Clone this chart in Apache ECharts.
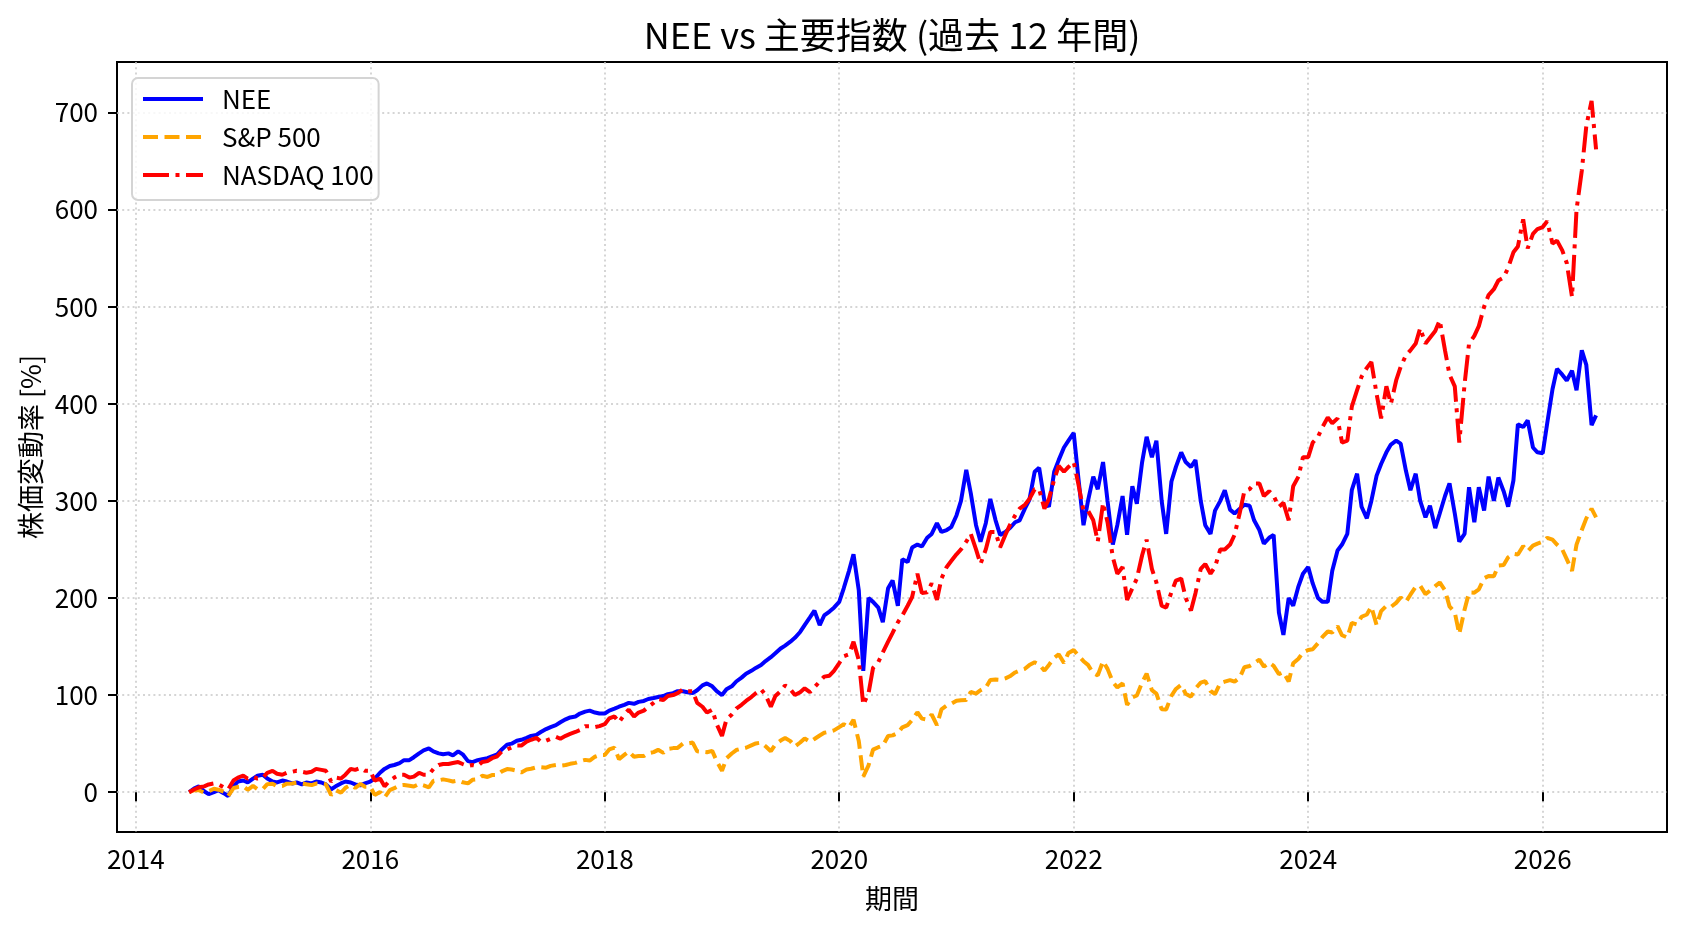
<!DOCTYPE html>
<html>
<head>
<meta charset="UTF-8">
<title>NEE vs 主要指数</title>
<style type="text/css">
   html, body{
      margin:0;
      padding:0;
      background-color:#ffffff;
   }
   #main{
      width:1688px;
      height:932px;
   }
</style>
</head>
<body>
<div id="main"></div>
<script src="https://cdn.jsdelivr.net/npm/echarts@6/dist/echarts.min.js"></script>
<script type="text/javascript">
var FONT = "'Noto Sans CJK JP', 'Noto Sans', sans-serif";

// sampled on the 1st and 15th of each month, 2014-06-15 .. 2026-06-15
var startYear = 2014.455, endYear = 2026.46;

// % change since start
var nee = [
  0, 4, 6, 1, -2, 0, 2, -1, -4, 6, 11, 12, 10,                                                          // 2014
  14, 17, 18, 14, 11, 10, 12, 11, 9, 10, 8, 10, 9, 11, 10, 8, 3, 6, 9, 11, 10, 8, 7, 9,                  // 2015
  11, 14, 20, 24, 27, 28, 30, 33, 33, 36, 40, 43, 45, 42, 40, 39, 40, 38, 42, 39, 32, 31, 33, 34,        // 2016
  35, 37, 39, 44, 49, 50, 53, 54, 56, 58, 59, 62, 65, 67, 69, 72, 75, 77, 78, 81, 83, 84, 82, 81,        // 2017
  81, 84, 86, 88, 90, 92, 91, 93, 94, 96, 97, 98, 99, 101, 102, 104, 104, 103, 102, 105, 110, 112, 109, 104, // 2018
  100, 106, 109, 114, 118, 122, 125, 128, 131, 135, 139, 143, 148, 151, 155, 159, 165, 172, 180, 187, 172, 182, 186, 190, // 2019
  196, 210, 228, 245, 208, 125, 200, 196, 190, 175, 210, 218, 192, 240, 237, 252, 255, 253, 262, 266, 277, 268, 270, 273, // 2020
  285, 300, 332, 308, 275, 258, 277, 302, 280, 265, 268, 272, 278, 280, 292, 301, 330, 334, 300, 294, 330, 342, 355, 362, // 2021
  370, 325, 275, 300, 325, 312, 340, 300, 255, 275, 305, 265, 315, 297, 340, 366, 345, 362, 300, 266, 320, 335, 350, 340, // 2022
  335, 342, 300, 275, 266, 290, 300, 311, 291, 287, 292, 296, 295, 280, 270, 256, 262, 265, 185, 162, 200, 192, 212, 225, // 2023
  232, 215, 200, 196, 196, 228, 249, 255, 266, 311, 328, 294, 282, 300, 326, 338, 350, 358, 362, 359, 331, 311, 328, 300, // 2024
  283, 295, 272, 287, 305, 318, 287, 258, 266, 314, 278, 314, 290, 325, 300, 324, 310, 294, 321, 379, 376, 383, 355, 350, // 2025
  349, 380, 415, 436, 430, 424, 434, 414, 455, 440, 378, 388                                             // 2026
];
var sp500 = [
  0, 2, 2, -0.5, 1, 3.5, 2.6, 0.6, -3.8, 4.3, 5.4, 6.1, 2.5,
  6.4, 3, 3.1, 8.3, 8.7, 6.1, 6.4, 8.8, 8.9, 9.7, 9.1, 8.2, 7.3, 8.9, 8.7, 8.1, -3, 2.2, -0.6, 4.5, 7.4, 4.5, 8.6, 5.6,
  5.6, -2.8, 0.3, -5.5, 2.2, 4.1, 7.1, 7.5, 6.7, 5.8, 8.5, 7.1, 5, 11.7, 12.3, 13.2, 12.2, 11, 12, 10.2, 9.1, 12.7, 13.3, 16.9,
  15.7, 17.6, 17.8, 21.4, 23.8, 23.3, 22.1, 20.4, 23.4, 24.1, 25.6, 25.7, 25.2, 27.1, 28, 27.3, 28, 29.2, 30.2, 31.9, 33.3, 32.6, 36.5, 38.2,
  38.2, 44, 45.8, 34, 38.4, 42, 36.5, 37.3, 37.2, 40.1, 41.3, 43.6, 40.5, 44.6, 45.4, 45.6, 50, 50.1, 51.1, 42.1, 41.6, 41.1, 42.6, 32,
  22, 34.9, 39.8, 43.4, 44.9, 45.8, 48.2, 50.2, 51.1, 47.3, 42.2, 49.2, 53.2, 55.8, 52.6, 47.1, 51.2, 55.4, 51.9, 54.8, 58.4, 61.2, 62.3, 63.7,
  67, 70, 66.7, 74.7, 52.7, 16, 27.7, 43.8, 46.3, 48, 57.9, 58.5, 61, 66.8, 69, 74.3, 82.3, 75.8, 74.7, 80, 69, 85.3, 89.3, 91,
  94.1, 94.7, 95, 103.3, 101.6, 105, 107.8, 115.5, 116.1, 115.7, 117.2, 119.4, 123.3, 125.3, 127.1, 130.9, 133.8, 131.5, 125.2, 131.1, 138.4, 142, 133.2, 143.4,
  146.3, 141, 134.9, 131.1, 122.5, 120.3, 134.9, 127, 113.5, 107.9, 112, 90, 97.7, 99.6, 112.9, 122.1, 105, 101.6, 85.3, 85.2, 99.3, 106.3, 110.6, 101.3,
  98.4, 106.7, 112.9, 114.3, 104.2, 101.1, 112.4, 113.8, 115.4, 113.8, 118.1, 128.7, 130, 132.8, 136.5, 129.3, 133.3, 130, 121.6, 123.6, 114, 132.7, 137.4, 143.9,
  146.5, 147.2, 153.5, 159.9, 165.5, 164.4, 171, 161.6, 159.3, 174.3, 172.7, 180.7, 183, 191, 172, 186.5, 191.9, 190.8, 195, 200.5, 196, 203.4, 211.7, 212.7,
  204, 207.5, 212.2, 216, 207.8, 191.4, 185, 163, 188, 205.7, 205.5, 208.9, 220.3, 222.7, 222.4, 233.3, 233.9, 241.9, 245.6, 244.8, 253.5, 248, 254, 256,
  258, 262, 260, 255, 250, 240, 228, 255, 270, 282, 292, 283
];
var nasdaq100 = [
  0, 3, 5, 6, 8, 9, 8, 5, 3, 12, 15, 17, 14,
  16, 14, 15, 20, 22, 19, 18, 20, 21, 22, 21, 20, 21, 24, 23, 22, 11, 15, 14, 18, 24, 23, 25, 22,
  22, 12, 14, 6, 12, 15, 18, 18, 15, 16, 20, 18, 18, 24, 28, 29, 29, 30, 31, 29, 27, 28, 27, 31,
  32, 35, 37, 42, 44, 46, 48, 48, 52, 54, 56, 52, 53, 55, 57, 55, 58, 60, 62, 64, 68, 68, 67, 68,
  70, 76, 78, 72, 80, 85, 78, 82, 84, 88, 92, 96, 95, 99, 100, 102, 106, 104, 104, 92, 88, 82, 85, 70,
  58, 75, 80, 86, 90, 94, 98, 102, 106, 100, 88, 99, 104, 110, 106, 100, 103, 107, 103, 108, 114, 119, 120, 125,
  133, 140, 142, 155, 136, 90, 102, 128, 134, 144, 155, 164, 175, 182, 192, 201, 225, 205, 206, 215, 198, 220, 232, 238,
  245, 250, 258, 266, 250, 235, 250, 268, 268, 252, 265, 275, 285, 292, 296, 302, 312, 312, 292, 302, 322, 336, 330, 335,
  340, 318, 290, 290, 280, 258, 298, 278, 242, 225, 232, 198, 210, 220, 244, 260, 230, 216, 192, 190, 206, 218, 220, 200,
  187, 205, 230, 235, 225, 232, 250, 250, 255, 265, 288, 310, 312, 318, 318, 305, 310, 305, 294, 298, 280, 315, 325, 345,
  345, 360, 366, 376, 386, 380, 385, 360, 362, 397, 414, 428, 437, 443, 410, 385, 418, 400, 424, 438, 450, 455, 462, 478,
  462, 468, 475, 486, 455, 430, 418, 360, 420, 462, 470, 480, 500, 512, 518, 527, 530, 540, 556, 562, 590, 560, 575, 580,
  582, 588, 565, 568, 558, 545, 510, 600, 640, 686, 712, 662
];
var seriesNames = ['NEE', 'S&P 500', 'NASDAQ 100'];
var xTicks = [2014, 2016, 2018, 2020, 2022, 2024, 2026];
var yTicks = [0, 100, 200, 300, 400, 500, 600, 700];

// x positions in decimal years
var dates = [];
for (var y = 2014; y <= 2026; y++) {
   for (var m = 0; m < 12; m++) {
      [1, 15].forEach(function (d) {
         var t = y + m / 12 + (d - 1) / 365;
         if (t >= startYear - 0.001 && t <= endYear) dates.push(t);
      });
   }
}

function pairs(vals) {
   var out = [];
   for (var i = 0; i < vals.length && i < dates.length; i++) {
      out.push([dates[i], vals[i]]);
   }
   return out;
}

var dom = document.getElementById("main");
var myChart = echarts.init(dom, null, {renderer: 'canvas'});

var gridLine = {
   show: true,
   lineStyle: { color: '#c8c8c8', width: 1.5, type: [2, 3.2] }
};
var LW = 4;

var option = {
   animation: false,
   backgroundColor: '#ffffff',
   textStyle: { fontFamily: FONT },
   title: {
      text: 'NEE vs 主要指数 (過去 12 年間)',
      left: 892,
      textAlign: 'center',
      top: 14,
      padding: 0,
      textStyle: { fontFamily: FONT, fontSize: 36, fontWeight: 'normal', color: '#000', lineHeight: 42 }
   },
   legend: {
      orient: 'vertical',
      left: 132,
      top: 78,
      padding: [8, 5, 12, 9],
      itemWidth: 60,
      itemHeight: 28,
      itemGap: 12,
      backgroundColor: 'rgba(255,255,255,0.8)',
      borderColor: '#d4d4d4',
      borderWidth: 2,
      borderRadius: 6,
      itemStyle: { color: 'rgba(0,0,0,0)', borderWidth: 0, opacity: 0 },
      lineStyle: { width: LW },
      textStyle: { fontFamily: FONT, fontSize: 26, color: '#000', padding: [0, 0, 0, 14] },
      data: seriesNames
   },
   grid: {
      left: 117,
      right: 21,
      top: 62,
      bottom: 100,
      show: true,
      borderColor: '#000',
      borderWidth: 2,
      backgroundColor: 'transparent'
   },
   xAxis: {
      type: 'value',
      min: 2013.84,
      max: 2027.06,
      name: '期間',
      nameLocation: 'middle',
      nameGap: 53,
      nameTextStyle: { fontFamily: FONT, fontSize: 27, color: '#000' },
      axisLine: { show: false },
      axisTick: { show: true, inside: false, length: 9, lineStyle: { color: '#000', width: 2 }, customValues: xTicks },
      axisLabel: {
         show: true, margin: 14, fontFamily: FONT, fontSize: 26, color: '#000',
         customValues: xTicks,
         formatter: function (v) { return String(Math.round(v)); }
      },
      splitLine: gridLine
   },
   yAxis: {
      type: 'value',
      min: -41,
      max: 752,
      name: '株価変動率 [%]',
      nameLocation: 'middle',
      nameRotate: 90,
      nameGap: 63,
      nameTextStyle: { fontFamily: FONT, fontSize: 27, color: '#000' },
      axisLine: { show: false },
      axisTick: { show: true, inside: false, length: 9, lineStyle: { color: '#000', width: 2 }, customValues: yTicks },
      axisLabel: {
         show: true, margin: 19, fontFamily: FONT, fontSize: 26, color: '#000',
         customValues: yTicks
      },
      splitLine: gridLine
   },
   series: [
      {
         name: seriesNames[0], type: 'line', data: pairs(nee),
         showSymbol: false, symbol: 'none',
         lineStyle: { color: '#0000ff', width: LW, type: 'solid' },
         itemStyle: { color: '#0000ff' }
      },
      {
         name: seriesNames[1], type: 'line', data: pairs(sp500),
         showSymbol: false, symbol: 'none',
         lineStyle: { color: '#ffa500', width: LW, type: [15, 6.5] },
         itemStyle: { color: '#ffa500' }
      },
      {
         name: seriesNames[2], type: 'line', data: pairs(nasdaq100),
         showSymbol: false, symbol: 'none',
         lineStyle: { color: '#ff0000', width: LW, type: [26, 6.5, 4, 6.5] },
         itemStyle: { color: '#ff0000' }
      }
   ]
};

if (option && typeof option === "object") {
   myChart.setOption(option, true);
}
</script>
</body>
</html>
